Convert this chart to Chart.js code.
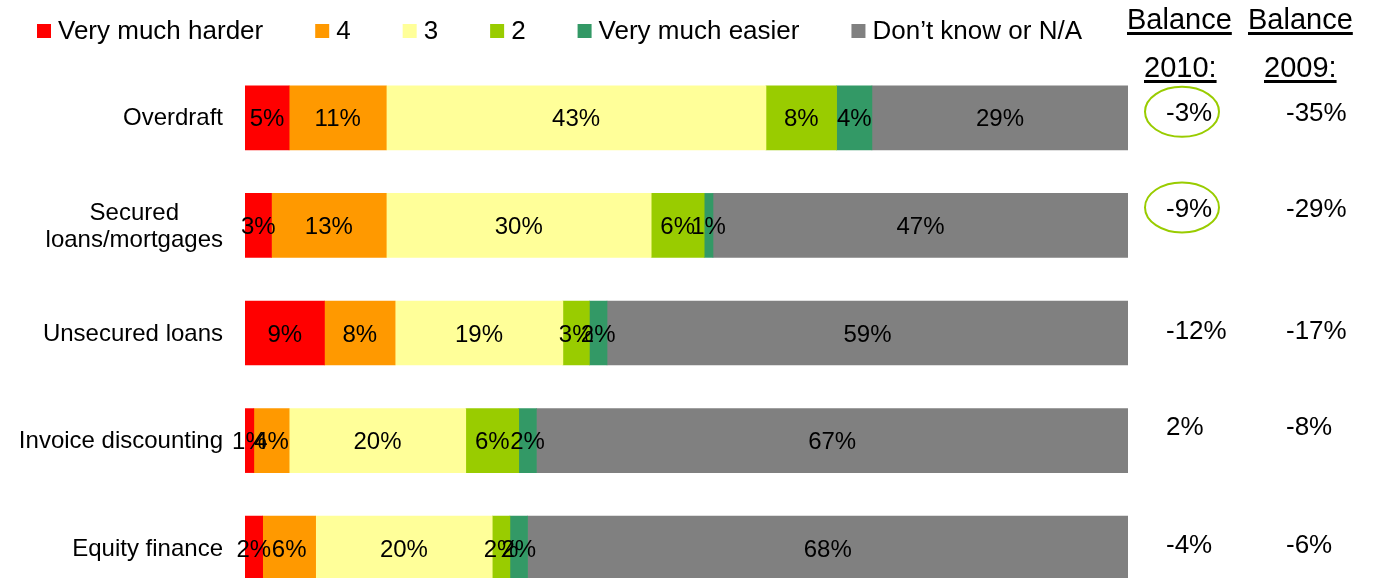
<!DOCTYPE html>
<html>
<head>
<meta charset="utf-8">
<script src="https://cdn.jsdelivr.net/npm/chart.js@4/dist/chart.umd.min.js"></script>
<style>
html, body { margin: 0; padding: 0; overflow: hidden; background: #fff; }
#wrap { width: 1374px; height: 602px; }
</style>
</head>
<body>
<div id="wrap"><canvas id="chart"></canvas></div>
<script>
// answers per product, % of respondents
var categories = [['Overdraft'], ['Secured', 'loans/mortgages'], ['Unsecured loans'], ['Invoice discounting'], ['Equity finance']];
var seriesNames = ['Very much harder', '4', '3', '2', 'Very much easier', 'Don\u2019t know or N/A'];

var veryMuchHarder = [5, 3, 9, 1, 2];
var four = [11, 13, 8, 4, 6];
var three = [43, 30, 19, 20, 20];
var two = [8, 6, 3, 6, 2];
var veryMuchEasier = [4, 1, 2, 2, 2];
var dontKnow = [29, 47, 59, 67, 68];

var balance2010 = [-3, -9, -12, 2, -4];
var balance2009 = [-35, -29, -17, -8, -6];
var circled2010 = [true, true, false, false, false];

var colors = ['#FF0000', '#FF9900', '#FFFF99', '#99CC00', '#339966', '#808080'];
var valueNudge = [-4, -16, -1, -13, -2]; // balance text sits a bit off the bar centre

var FONT = "'Liberation Sans', Arial, sans-serif";

function pct(v) { return v + '%'; }

var extras = {
  id: 'extras',
  afterDatasetsDraw: function (chart) {
    var ctx = chart.ctx;
    ctx.save();
    ctx.font = '24px ' + FONT;
    ctx.fillStyle = '#000';
    ctx.textAlign = 'center';
    ctx.textBaseline = 'middle';
    chart.data.datasets.forEach(function (ds, i) {
      chart.getDatasetMeta(i).data.forEach(function (bar, j) {
        var p = bar.getProps(['x', 'y', 'base'], true);
        ctx.fillText(pct(ds.data[j]), (p.x + p.base) / 2, p.y + 2);
      });
    });
    ctx.restore();
  },
  afterDraw: function (chart) {
    var ctx = chart.ctx;
    var yScale = chart.scales.y;
    ctx.save();
    ctx.textBaseline = 'middle';

    // legend
    ctx.font = '26px ' + FONT;
    ctx.textAlign = 'left';
    var lx = 37;
    chart.data.datasets.forEach(function (ds) {
      ctx.fillStyle = ds.backgroundColor;
      ctx.fillRect(lx, 24, 14, 14);
      ctx.fillStyle = '#000';
      ctx.fillText(ds.label, lx + 21, 32);
      lx += 21 + ctx.measureText(ds.label).width + 52;
    });

    // category labels, lines centred on each other
    ctx.font = '24px ' + FONT;
    ctx.textAlign = 'center';
    categories.forEach(function (lines, i) {
      var cy = yScale.getPixelForValue(i);
      var w = Math.max.apply(null, lines.map(function (l) { return ctx.measureText(l).width; }));
      var cx = chart.chartArea.left - 22 - w / 2;
      lines.forEach(function (l, k) {
        ctx.fillText(l, cx, cy + (k - (lines.length - 1) / 2) * 27 + 1);
      });
    });

    // balance headers
    ctx.font = '29px ' + FONT;
    ctx.textAlign = 'left';
    ctx.textBaseline = 'alphabetic';
    [[1127, 29, 'Balance'], [1248, 29, 'Balance'], [1144, 77, '2010:'], [1264, 77, '2009:']].forEach(function (h) {
      ctx.fillText(h[2], h[0], h[1]);
      ctx.fillRect(h[0], h[1] + 3, ctx.measureText(h[2]).width, 3);
    });

    // balance values
    ctx.font = '26px ' + FONT;
    ctx.textBaseline = 'middle';
    balance2010.forEach(function (v, i) {
      var ty = yScale.getPixelForValue(i) + valueNudge[i];
      ctx.fillStyle = '#000';
      ctx.fillText(pct(v), 1166, ty);
      ctx.fillText(pct(balance2009[i]), 1286, ty);
      if (circled2010[i]) {
        ctx.beginPath();
        ctx.ellipse(1182, ty - 2, 37, 25, 0, 0, Math.PI * 2);
        ctx.strokeStyle = '#99CC00';
        ctx.lineWidth = 2;
        ctx.stroke();
      }
    });
    ctx.restore();
  }
};

var series = [veryMuchHarder, four, three, two, veryMuchEasier, dontKnow];

var chart = new Chart(document.getElementById('chart'), {
  type: 'bar',
  data: {
    labels: categories,
    datasets: series.map(function (d, i) {
      return {
        label: seriesNames[i],
        data: d,
        backgroundColor: colors[i],
        borderWidth: 0,
        barThickness: 64
      };
    })
  },
  options: {
    indexAxis: 'y',
    responsive: true,
    maintainAspectRatio: false,
    animation: false,
    layout: { padding: { left: 245, right: 246, top: 64, bottom: 0 } },
    scales: {
      x: { stacked: true, min: 0, max: 100, display: false },
      y: { stacked: true, display: false }
    },
    plugins: {
      legend: { display: false },
      tooltip: { enabled: false }
    }
  },
  plugins: [extras]
});
</script>
</body>
</html>
